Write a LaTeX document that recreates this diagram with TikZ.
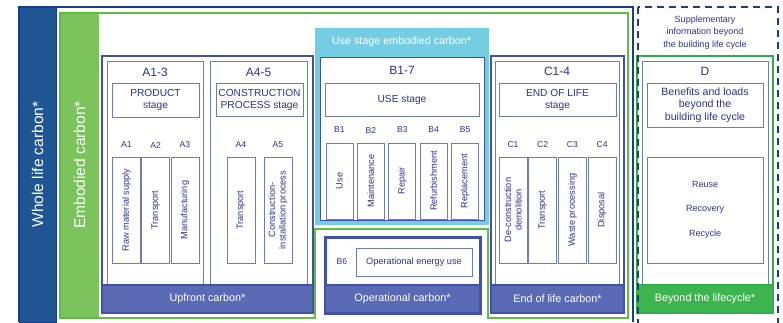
\documentclass[tikz,border=0pt]{standalone}
\usepackage{fontspec}
\setmainfont{Liberation Sans}
\usepackage{tikz}
\usepackage{xcolor}
\usetikzlibrary{positioning, calc}

\definecolor{wlblue}{HTML}{1F5592}
\definecolor{wlline}{HTML}{173D8C}
\definecolor{ecgreen}{HTML}{7BC45C}
\definecolor{ecline}{HTML}{62BC42}
\definecolor{stageblue}{HTML}{3F51AA}
\definecolor{barblue}{HTML}{5A6AB4}
\definecolor{usecyan}{HTML}{74CDE0}
\definecolor{txtblue}{HTML}{28358A}
\definecolor{dgreen}{HTML}{2DAE4A}
\definecolor{dbar}{HTML}{3DB54F}
\definecolor{thinline}{HTML}{6E7CB6}

\begin{document}
\begin{tikzpicture}[x=1pt, y=-1pt,
            cell/.style={rectangle, draw=thinline, line width=0.8pt, fill=white, inner sep=0pt, outer sep=0pt, text=txtblue},
            stagebox/.style={cell, align=center, font=\fontsize{10.2}{12}\selectfont},
            colbox/.style={cell, rotate=90, align=center, minimum width=106pt, minimum height=28pt, font=\fontsize{9.2}{10.5}\selectfont},
            stageblock/.style={rectangle, draw=stageblue, line width=1.8pt, fill=white, inner sep=0pt, outer sep=0pt},
            carbonbar/.style={rectangle, fill=barblue, draw=stageblue, line width=1.8pt, inner sep=0pt, minimum height=28pt, text=white, font=\fontsize{10.8}{12}\selectfont},
            stagetitle/.style={text=txtblue, inner sep=0pt, font=\fontsize{12}{13}\selectfont},
            stagecode/.style={text=txtblue, inner sep=0pt, font=\fontsize{8.6}{9}\selectfont},
            sideband/.style={rectangle, rotate=90, inner sep=0pt, outer sep=0pt, text=white, font=\fontsize{15.5}{17}\selectfont}
        ]
            \useasboundingbox (0,0) rectangle (783,322);

% Whole life carbon
            \draw[wlline, line width=1.5pt] (19,322) -- (19,7) -- (633,7) -- (633,322);
            \node[sideband, fill=wlblue, draw=wlline, line width=1pt, minimum width=315pt, minimum height=37pt] (wholelife) at (37.5,164.5) {Whole life carbon*};

% Embodied carbon
            \node[sideband, fill=ecgreen, minimum width=306pt, minimum height=39pt] (embodied) at (79.5,165) {Embodied carbon*};
            \draw[ecline, line width=2pt] (60,318) -- (60,13) -- (628,13) -- (628,318) -- (488,318) -- (488,229) -- (315,229) -- (315,318) -- cycle;

% Upfront carbon (A1-5)
            \node[stageblock, minimum width=211pt, minimum height=257pt] (upfront) at (207.5,184.5) {};
            \node[cell, minimum width=96pt, minimum height=224pt] (panelA13) at (155,173) {};
            \node[cell, minimum width=97pt, minimum height=224pt] (panelA45) at (258.5,173) {};
            \node[carbonbar, minimum width=211pt] (upfrontbar) at (207.5,299) {Upfront carbon*};
            \node[stagetitle] (tA13) at (155,72) {A1-3};
            \node[stagetitle] (tA45) at (258.5,72) {A4-5};
            \node[stagebox, minimum width=87pt, minimum height=34pt] (product) at (155.5,100) {PRODUCT\\stage};
            \node[stagebox, minimum width=87pt, minimum height=33pt] (construction) at (259.5,99.5) {CONSTRUCTION\\PROCESS stage};
            \foreach \lbl/\txt [count=\i from 0] in {A1/Raw material supply, A2/Transport, A3/Manufacturing} {
                \node[stagecode] (l\lbl) at ({126.5+29.25*\i},145) {\lbl};
                \node[colbox] (c\lbl) at ({126.5+29.25*\i},210) {\txt};
            }
            \foreach \lbl/\txt [count=\i from 0] in {A4/Transport, A5/{Construction-\\installation process}} {
                \node[stagecode] (l\lbl) at ({241+37*\i},145) {\lbl};
                \node[colbox] (c\lbl) at ({241+37*\i},210) {\txt};
            }

% Use stage embodied carbon (B1-7)
            \node[rectangle, fill=usecyan, draw=usecyan, line width=1pt, minimum width=173pt, minimum height=196pt, inner sep=0pt] (usestage) at (401.5,126) {};
            \node[text=white, font=\fontsize{10.8}{12}\selectfont, inner sep=0pt] (usehead) at (401.5,42) {Use stage embodied carbon*};
            \node[cell, draw=stageblue, minimum width=164pt, minimum height=163pt] (panelB) at (402,138.5) {};
            \node[stagetitle] (tB17) at (402,70) {B1-7};
            \node[stagebox, minimum width=154pt, minimum height=33pt] (use) at (402,99.5) {USE stage};
            \foreach \lbl/\txt [count=\i from 0] in {B1/Use, B2/Maintenance, B3/Repair, B4/Refurbishment, B5/Replacement} {
                \node[stagecode] (l\lbl) at ({339.5+31.4*\i},130) {\lbl};
                \node[colbox, minimum width=76pt, minimum height=27pt] (c\lbl) at ({339.5+31.4*\i},181) {\txt};
            }

% Operational carbon (B6)
            \node[stageblock, line width=3pt, minimum width=155pt, minimum height=76pt] (operational) at (402.5,275) {};
            \node[carbonbar, line width=2pt, minimum width=155pt] (operationalbar) at (402.5,299) {Operational carbon*};
            \node[stagecode] (lB6) at (342,261.5) {B6};
            \node[cell, minimum width=116pt, minimum height=28pt, font=\fontsize{9.2}{10}\selectfont] (energy) at (414,262) {Operational energy use};

% End of life carbon (C1-4)
            \node[stageblock, minimum width=133pt, minimum height=257pt] (endoflife) at (557.5,184.5) {};
            \node[cell, minimum width=124pt, minimum height=224pt] (panelC) at (557,173) {};
            \node[carbonbar, minimum width=133pt] (endoflifebar) at (557.5,299) {End of life carbon*};
            \node[stagetitle] (tC14) at (557,71) {C1-4};
            \node[stagebox, minimum width=117pt, minimum height=33pt] (eol) at (557.5,99.5) {END OF LIFE\\stage};
            \foreach \lbl/\txt [count=\i from 0] in {C1/{De-construction\\demolition}, C2/Transport, C3/Waste processing, C4/Disposal} {
                \node[stagecode] (l\lbl) at ({513+29.7*\i},145) {\lbl};
                \node[colbox] (c\lbl) at ({513+29.7*\i},210) {\txt};
            }

% Beyond the lifecycle (D)
            \node[text=txtblue, align=center, font=\fontsize{9}{12.3}\selectfont, inner sep=0pt] (supplementary) at (705,32.5) {Supplementary\\information beyond\\the building life cycle};
            \node[rectangle, draw=dgreen, line width=2.5pt, fill=white, minimum width=136pt, minimum height=257pt, inner sep=0pt] (beyond) at (705,184.5) {};
            \node[cell, minimum width=126pt, minimum height=224pt] (panelD) at (705,173) {};
            \node[carbonbar, fill=dbar, draw=dgreen, line width=2.5pt, minimum width=136pt] (beyondbar) at (705,299) {Beyond the lifecycle*};
            \node[stagetitle] (tD) at (705,71) {D};
            \node[stagebox, minimum width=116pt, minimum height=44pt, font=\fontsize{10.6}{12.5}\selectfont] (benefits) at (705,105) {Benefits and loads\\beyond the\\building life cycle};
            \node[cell, minimum width=116pt, minimum height=106pt] (reusebox) at (705,210) {};
            \node[stagecode, font=\fontsize{9}{10}\selectfont] (reuse) at (705,184) {Reuse};
            \node[stagecode, font=\fontsize{9}{10}\selectfont] (recovery) at (705,209) {Recovery};
            \node[stagecode, font=\fontsize{9}{10}\selectfont] (recycle) at (705,234) {Recycle};
            \draw[wlline, line width=2pt, dash pattern=on 7pt off 5pt] (638,7) rectangle (778,324);

        \end{tikzpicture}
\end{document}
